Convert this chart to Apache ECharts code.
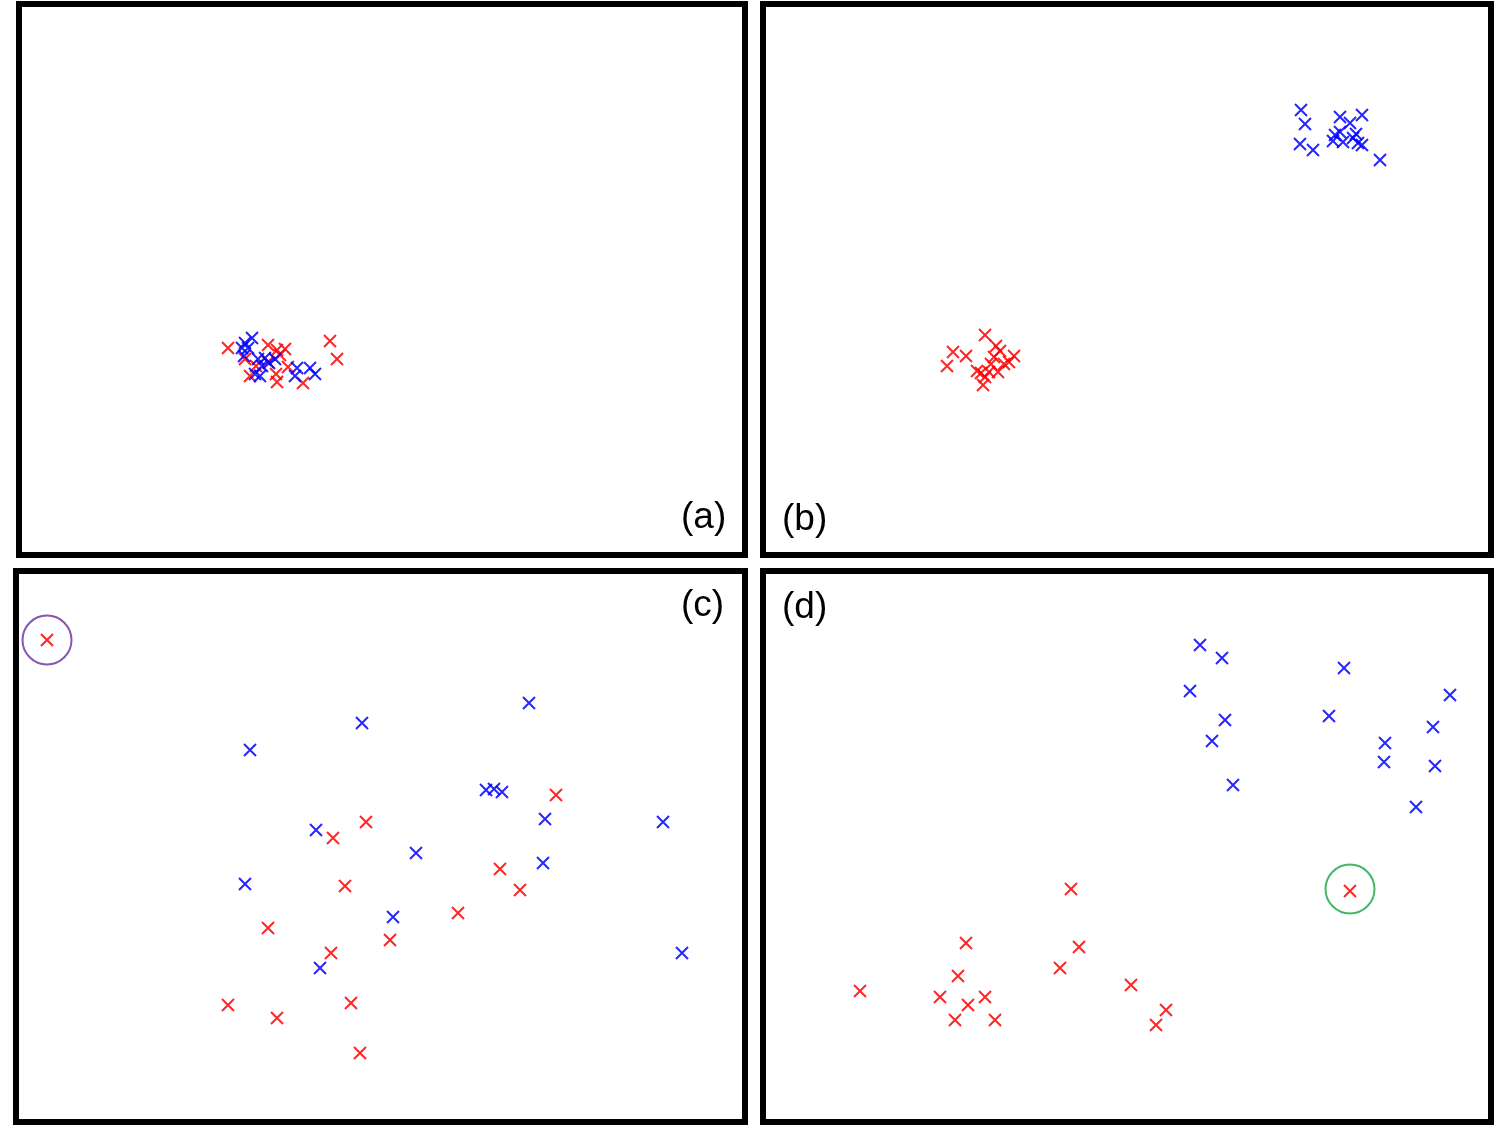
<!DOCTYPE html>
<html><head><meta charset="utf-8">
<script src="https://cdn.jsdelivr.net/npm/echarts@6/dist/echarts.min.js"></script>
<style>html,body{margin:0;padding:0;background:#fff}#c{width:1495px;height:1127px}</style>
</head><body><div id="c"></div>
<script>
// Panel-local coordinates (x from left, y from top of each panel frame)
const panelLabels = ['(a)', '(b)', '(c)', '(d)'];

const aRed = [[209,344],[249,341],[258,346],[266,345],[226,355],[231,372],[257,370],[258,378],[284,379],[311,337],[318,355],[269,363],[249,358],[261,351],[237,362]];
const aBlue = [[233,334],[226,339],[223,344],[229,344],[225,352],[239,355],[246,354],[250,359],[236,370],[241,372],[256,355],[278,364],[291,364],[296,370],[276,372],[243,362]];

const bRed = [[222,331],[190,348],[203,352],[184,362],[233,342],[237,347],[231,353],[251,352],[246,358],[218,369],[226,368],[235,368],[222,373],[220,381],[241,360],[228,360],[214,367]];
const bBlue = [[538,106],[542,120],[537,140],[550,146],[577,113],[587,119],[599,111],[570,137],[580,138],[577,128],[593,130],[595,139],[599,141],[617,156],[590,134],[572,131]];

const cRed = [[31,69],[540,224],[317,267],[350,251],[484,298],[329,315],[504,319],[442,342],[252,357],[374,369],[315,382],[212,434],[261,447],[335,432],[344,482]];
const cBlue = [[513,132],[346,152],[234,179],[470,219],[478,218],[486,221],[300,259],[529,248],[647,251],[400,282],[527,292],[229,313],[377,346],[666,382],[304,397]];
const cOutlier = [[31,69]];

const dRed = [[308,318],[587,320],[203,372],[316,376],[297,397],[195,405],[97,420],[368,414],[177,426],[222,426],[205,434],[192,449],[232,449],[403,439],[393,454]];
const dBlue = [[437,74],[459,87],[581,97],[427,120],[687,124],[462,149],[566,145],[670,156],[449,170],[622,172],[621,191],[672,195],[470,214],[653,236]];
const dOutlier = [[587,318]];

const panels = [
  {left:19, top:4, w:726, h:551, red:aRed, blue:aBlue, ring:null},
  {left:763, top:4, w:728, h:551, red:bRed, blue:bBlue, ring:null},
  {left:16, top:571, w:729, h:551, red:cRed, blue:cBlue, ring:{data:cOutlier, color:'#6a2a9e'}},
  {left:763, top:571, w:728, h:551, red:dRed, blue:dBlue, ring:{data:dOutlier, color:'#12a840'}}
];

const cross = 'path://M0,0L10,10M0,10L10,0';
const grid = [], xAxis = [], yAxis = [], series = [];
panels.forEach((p, i) => {
  grid.push({left:p.left, top:p.top, width:p.w, height:p.h, show:true, borderColor:'#000', borderWidth:6, backgroundColor:'#fff', z:0});
  xAxis.push({type:'value', gridIndex:i, min:0, max:p.w, show:false});
  yAxis.push({type:'value', gridIndex:i, min:0, max:p.h, inverse:true, show:false});
  const mk = (data, col) => ({type:'scatter', xAxisIndex:i, yAxisIndex:i, data:data, symbol:cross, symbolSize:12,
    itemStyle:{color:'rgba(0,0,0,0)', borderColor:col, borderWidth:2, opacity:0.85}, silent:true, animation:false});
  series.push(mk(p.red, '#ff0000'));
  series.push(mk(p.blue, '#0000ff'));
  if (p.ring) {
    series.push({type:'scatter', xAxisIndex:i, yAxisIndex:i, data:p.ring.data, symbol:'circle', symbolSize:49,
      itemStyle:{color:'rgba(0,0,0,0)', borderColor:p.ring.color, borderWidth:2}, silent:true, animation:false, z:1});
  }
});

const labelPos = [[681,499],[782,501],[681,587],[782,589]];
const graphic = panelLabels.map((t, i) => ({type:'text', left:labelPos[i][0], top:labelPos[i][1], z:10,
  style:{text:t, fontSize:37, fontFamily:'Liberation Sans, Arial, sans-serif', fill:'#000'}}));

const chart = echarts.init(document.getElementById('c'), null, {renderer:'canvas'});
chart.setOption({animation:false, backgroundColor:'#fff', grid, xAxis, yAxis, series, graphic});
</script>
</body></html>
